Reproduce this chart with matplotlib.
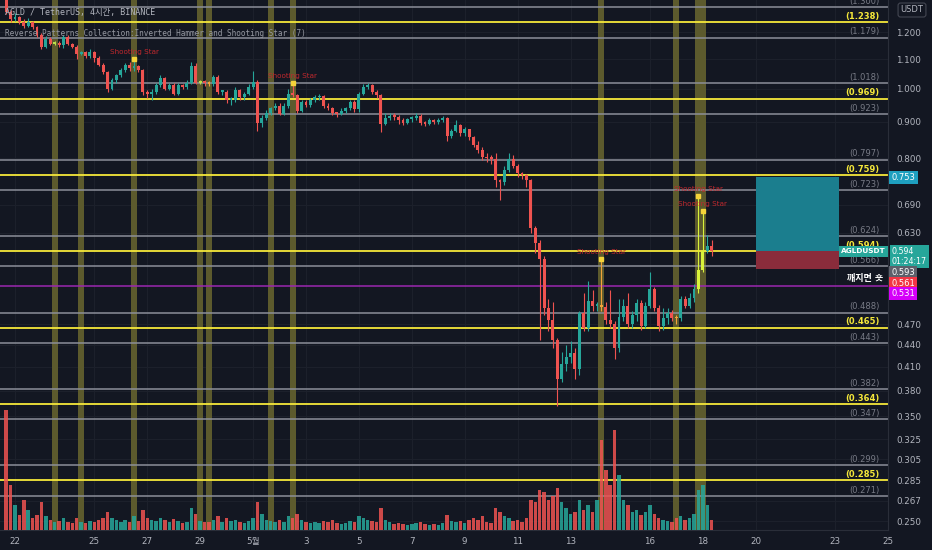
import numpy as np
import matplotlib.pyplot as plt
from matplotlib.patches import Rectangle
import matplotlib.transforms as mtransforms

# ---- data (4h candles, AGLD/USDT) ----
first_open = 1.33
closes = [1.28, 1.25, 1.26, 1.24, 1.225, 1.24, 1.22, 1.19, 1.145, 1.175,
          1.155, 1.16, 1.15, 1.18, 1.155, 1.145, 1.12, 1.125, 1.11, 1.125,
          1.105, 1.08, 1.055, 1.00, 1.028, 1.044, 1.061, 1.078, 1.068, 1.075,
          1.061, 0.99, 0.985, 0.99, 1.013, 1.037, 1.00, 1.013, 0.985, 1.013,
          1.006, 1.02, 1.075, 1.02, 1.023, 1.02, 1.016, 1.04, 0.99, 0.99,
          0.964, 0.964, 0.998, 0.973, 0.985, 1.006, 1.023, 0.897, 0.911, 0.927,
          0.94, 0.947, 0.924, 0.947, 0.985, 0.98, 0.933, 0.958, 0.95, 0.964,
          0.973, 0.976, 0.947, 0.942, 0.927, 0.924, 0.933, 0.94, 0.958, 0.937,
          0.985, 1.006, 1.013, 0.99, 0.98, 0.894, 0.911, 0.918, 0.915, 0.904,
          0.897, 0.907, 0.911, 0.918, 0.897, 0.894, 0.904, 0.90, 0.904, 0.911,
          0.86, 0.875, 0.89, 0.867, 0.878, 0.856, 0.835, 0.821, 0.803, 0.80,
          0.798, 0.746, 0.741, 0.77, 0.798, 0.78, 0.763, 0.758, 0.746, 0.64,
          0.61, 0.58, 0.496, 0.476, 0.447, 0.395, 0.414, 0.423, 0.429, 0.407,
          0.488, 0.465, 0.506, 0.498, 0.499, 0.497, 0.476, 0.471, 0.436, 0.481,
          0.498, 0.471, 0.484, 0.504, 0.468, 0.499, 0.527, 0.496, 0.468, 0.479,
          0.488, 0.48, 0.479, 0.509, 0.499, 0.512, 0.527, 0.56, 0.594, 0.605,
          0.594]
highs = [1.345, 1.29, 1.275, 1.265, 1.25, 1.255, 1.245, 1.225, 1.195, 1.185,
         1.18, 1.165, 1.165, 1.19, 1.19, 1.16, 1.15, 1.13, 1.13, 1.135,
         1.13, 1.11, 1.085, 1.06, 1.035, 1.05, 1.07, 1.085, 1.09, 1.10,
         1.08, 1.065, 0.995, 1.00, 1.02, 1.045, 1.04, 1.02, 1.02, 1.02,
         1.015, 1.03, 1.09, 1.085, 1.03, 1.03, 1.025, 1.045, 1.045, 0.995,
         0.995, 0.975, 1.005, 1.00, 0.99, 1.015, 1.06, 1.03, 0.92, 0.935,
         0.945, 0.955, 0.955, 0.955, 1.00, 1.02, 0.985, 0.965, 0.965, 0.97,
         0.98, 0.985, 0.98, 0.955, 0.945, 0.93, 0.94, 0.945, 0.965, 0.965,
         0.99, 1.015, 1.02, 1.015, 0.995, 0.985, 0.925, 0.925, 0.925, 0.92,
         0.91, 0.912, 0.916, 0.925, 0.922, 0.902, 0.91, 0.908, 0.91, 0.918,
         0.915, 0.88, 0.905, 0.895, 0.885, 0.88, 0.86, 0.845, 0.83, 0.815,
         0.81, 0.815, 0.75, 0.78, 0.815, 0.81, 0.785, 0.765, 0.762, 0.75,
         0.645, 0.615, 0.585, 0.51, 0.505, 0.45, 0.43, 0.44, 0.445, 0.435,
         0.49, 0.52, 0.54, 0.525, 0.505, 0.58, 0.505, 0.525, 0.475, 0.51,
         0.51, 0.52, 0.49, 0.51, 0.508, 0.505, 0.555, 0.53, 0.50, 0.495,
         0.495, 0.492, 0.485, 0.515, 0.515, 0.52, 0.535, 0.71, 0.677, 0.625,
         0.615]
lows = [1.27, 1.24, 1.245, 1.23, 1.215, 1.22, 1.21, 1.18, 1.135, 1.14,
        1.15, 1.15, 1.145, 1.14, 1.15, 1.14, 1.10, 1.115, 1.105, 1.105,
        1.09, 1.075, 1.05, 0.99, 0.995, 1.02, 1.04, 1.055, 1.06, 1.06,
        1.055, 0.98, 0.97, 0.965, 0.985, 1.005, 0.995, 0.995, 0.98, 0.98,
        1.00, 1.00, 1.015, 1.015, 1.015, 1.01, 1.01, 1.01, 0.985, 0.98,
        0.955, 0.95, 0.96, 0.965, 0.965, 0.98, 1.00, 0.875, 0.885, 0.905,
        0.92, 0.935, 0.92, 0.92, 0.94, 0.975, 0.925, 0.93, 0.945, 0.945,
        0.96, 0.965, 0.94, 0.935, 0.92, 0.915, 0.92, 0.925, 0.935, 0.93,
        0.93, 0.98, 1.00, 0.985, 0.97, 0.87, 0.89, 0.905, 0.905, 0.895,
        0.89, 0.893, 0.90, 0.905, 0.89, 0.888, 0.89, 0.895, 0.895, 0.90,
        0.845, 0.855, 0.87, 0.86, 0.86, 0.85, 0.83, 0.815, 0.795, 0.79,
        0.785, 0.73, 0.70, 0.735, 0.765, 0.775, 0.755, 0.75, 0.73, 0.63,
        0.59, 0.447, 0.485, 0.46, 0.435, 0.362, 0.39, 0.405, 0.415, 0.395,
        0.40, 0.46, 0.46, 0.49, 0.49, 0.49, 0.47, 0.465, 0.42, 0.43,
        0.475, 0.465, 0.465, 0.475, 0.462, 0.465, 0.495, 0.49, 0.46, 0.462,
        0.47, 0.475, 0.47, 0.475, 0.495, 0.495, 0.505, 0.52, 0.555, 0.59,
        0.585]
volumes = [120, 45, 25, 15, 30, 20, 12, 15, 28, 14,
           10, 8, 9, 12, 8, 7, 12, 8, 7, 9,
           8, 10, 12, 18, 12, 10, 8, 10, 8, 14,
           9, 20, 12, 10, 9, 12, 10, 8, 11, 9,
           7, 8, 22, 16, 9, 8, 8, 10, 14, 8,
           12, 9, 10, 8, 7, 9, 12, 28, 16, 10,
           9, 8, 10, 8, 14, 12, 16, 10, 8, 7,
           8, 7, 9, 8, 10, 7, 6, 7, 9, 8,
           14, 12, 10, 9, 8, 22, 10, 8, 6, 7,
           6, 5, 6, 7, 8, 6, 5, 6, 5, 7,
           15, 9, 8, 9, 7, 10, 12, 10, 14, 8,
           7, 22, 18, 14, 12, 9, 10, 8, 12, 30,
           28, 40, 38, 30, 34, 42, 28, 22, 16, 18,
           30, 20, 25, 18, 30, 90, 60, 45, 100, 55,
           30, 25, 18, 20, 15, 18, 25, 16, 12, 10,
           9, 8, 12, 14, 10, 12, 16, 40, 45, 25, 10]

# pattern candles (indices) highlighted by the indicator
band_idx = [11, 17, 29, 44, 46, 60, 65, 135, 152, 157, 158]
star_idx = [29, 65, 135, 157, 158]

yellow_levels = [1.238, 0.969, 0.759, 0.594, 0.465, 0.364, 0.285]
gray_levels = [1.300, 1.179, 1.018, 0.923, 0.797, 0.723, 0.624, 0.566,
               0.488, 0.443, 0.382, 0.347, 0.299, 0.271]
short_level = 0.531
tp_price, entry_price, sl_price = 0.753, 0.594, 0.561

price_ticks = [1.200, 1.100, 1.000, 0.900, 0.800, 0.690, 0.630, 0.470, 0.440,
               0.410, 0.380, 0.350, 0.325, 0.305, 0.285, 0.267, 0.250]
day_ticks = [0, 3, 5, 7, 9, 11, 13, 15, 17, 19, 21, 24, 26, 28, 31, 33]
day_labels = ['22', '25', '27', '29', '5월', '3', '5', '7', '9', '11', '13',
              '16', '18', '20', '23', '25']

# ---- style ----
BG = '#131722'
UP = '#26a69a'
DN = '#ef5350'
TXT = '#b2b5be'
plt.rcParams['font.family'] = ['DejaVu Sans', 'Noto Sans CJK KR']

closes = np.array(closes)
highs = np.array(highs)
lows = np.array(lows)
opens = np.concatenate([[first_open], closes[:-1]])
n = len(closes)
t = (np.arange(n) - 2) / 6.0   # days since Apr 22 00:00

fig = plt.figure(figsize=(9.32, 5.5), dpi=100, facecolor=BG)
ax = fig.add_axes([0, 20 / 550, 888 / 932, 530 / 550])
ax.set_facecolor(BG)
ax.set_yscale('log')
ax.set_ylim(0.243, 1.33)
ax.set_xlim(-0.566, 32.97)

# grid
for d in day_ticks:
    ax.axvline(d, color='#1c202b', lw=0.8, zorder=0)
for p in price_ticks:
    ax.axhline(p, color='#1c202b', lw=0.8, zorder=0)

# pattern bands
for i in band_idx:
    ax.axvspan(t[i] - 0.11, t[i] + 0.11, color='#5c5a2d', lw=0, zorder=1)

# fib levels
for lv in gray_levels:
    ax.axhline(lv, color='#8c8f99', lw=1.1, zorder=2)
    ax.text(32.67, lv * 1.004, '(%.3f)' % lv, color='#787b86', fontsize=6,
            ha='right', va='bottom', zorder=3)
for lv in yellow_levels:
    ax.axhline(lv, color='#f5e83a', lw=1.3, zorder=2)
    ax.text(32.67, lv * 1.004, '(%.3f)' % lv, color='#f5e83a', fontsize=6,
            ha='right', va='bottom', fontweight='bold', zorder=3)
ax.axhline(short_level, color='#9c27b0', lw=1.1, zorder=2)
ax.text(32.8, 0.545, '깨지면 숏', color='white', fontsize=6.5,
        ha='right', va='center', fontweight='bold', zorder=3)

# position tool
x0 = 28.02
x1 = 31.16
ax.add_patch(Rectangle((x0, entry_price), x1 - x0, tp_price - entry_price,
                       color='#1b7e8e', lw=0, zorder=2))
ax.add_patch(Rectangle((x0, sl_price), x1 - x0, entry_price - sl_price,
                       color='#8a2c3b', lw=0, zorder=2))

# candles
up = closes >= opens
cols = np.where(up, UP, DN).astype(object)
for i in [44, 11]:
    cols[i] = '#b8e04a'
for i in [46, 135, 152]:
    cols[i] = '#f2a33a'
for i in [157, 158]:
    cols[i] = '#d8f23a'
ax.vlines(t, lows, highs, color=list(cols), lw=0.8, zorder=4)
bottoms = np.minimum(opens, closes)
heights = np.maximum(np.abs(closes - opens), bottoms * 0.006)
ax.bar(t, heights, width=0.11, bottom=bottoms, color=list(cols), lw=0, zorder=5)

# shooting star markers
for i in star_idx:
    ax.plot(t[i], highs[i], 's', ms=2.2, color='#f5d33a', zorder=6)
    ax.text(t[i], highs[i] * 1.012, 'Shooting Star', color='#c0282d',
            fontsize=5.2, ha='center', va='bottom', zorder=6)

# volume
vax = ax.twinx()
vax.set_ylim(0, 530)
vax.bar(t, volumes, width=0.13, color=list(np.where(up, UP, DN)), alpha=0.85,
        lw=0, zorder=3)
vax.set_yticks([])
vax.set_xlim(ax.get_xlim())
for s in vax.spines.values():
    s.set_visible(False)

# axes cosmetics
for s in ['top', 'left']:
    ax.spines[s].set_visible(False)
ax.spines['right'].set_color('#2a2e39')
ax.spines['bottom'].set_color('#2a2e39')
ax.yaxis.tick_right()
ax.yaxis.set_minor_locator(plt.NullLocator())
ax.set_yticks(price_ticks)
ax.set_yticklabels(['%.3f' % p for p in price_ticks])
ax.tick_params(axis='y', length=0, pad=6, labelsize=6.3, colors=TXT)
ax.set_xticks(day_ticks)
ax.set_xticklabels(day_labels)
ax.tick_params(axis='x', length=0, pad=5, labelsize=6.3, colors=TXT)

# header
mono = ['DejaVu Sans Mono', 'Noto Sans CJK KR']
fig.text(5 / 932, 1 - 12 / 550, 'AGLD / TetherUS, 4시간, BINANCE', color=TXT,
         fontsize=6, family=mono, va='center', zorder=1)
fig.text(5 / 932, 1 - 34 / 550,
         'Reverse Patterns Collection:Inverted Hammer and Shooting Star (7)',
         color='#9598a1', fontsize=5.6, family=mono, va='center', zorder=1)

# right axis price labels
trans = mtransforms.blended_transform_factory(ax.transAxes, ax.transData)
def tag(y, txt, fc, tc='white', x=1.004, fs=6.0):
    ax.text(x, y, txt, transform=trans, color=tc, fontsize=fs, ha='left',
            va='center', clip_on=False, zorder=10, linespacing=1.15,
            bbox=dict(boxstyle='square,pad=0.25', fc=fc, ec='none'))

tag(tp_price, '0.753', '#1e9fbf')
tag(0.5846, '0.594\n01:24:17', '#26a69a', fs=5.7)
tag(0.555, '0.593', '#5d606b')
tag(0.536, '0.561', '#f23645')
tag(0.519, '0.531', '#d500f9')
ax.text(0.9975, 0.594, 'AGLDUSDT', transform=trans, color='white', fontsize=5.3,
        ha='right', va='center', fontweight='bold', zorder=10,
        bbox=dict(boxstyle='square,pad=0.3', fc='#26a69a', ec='none'))
fig.text(912 / 932, 1 - 10 / 550, 'USDT', color=TXT, fontsize=6, ha='center',
         va='center', bbox=dict(boxstyle='round,pad=0.3', fc=BG, ec='#434651', lw=0.8))

fig.savefig('out.png', dpi=100, facecolor=BG)
